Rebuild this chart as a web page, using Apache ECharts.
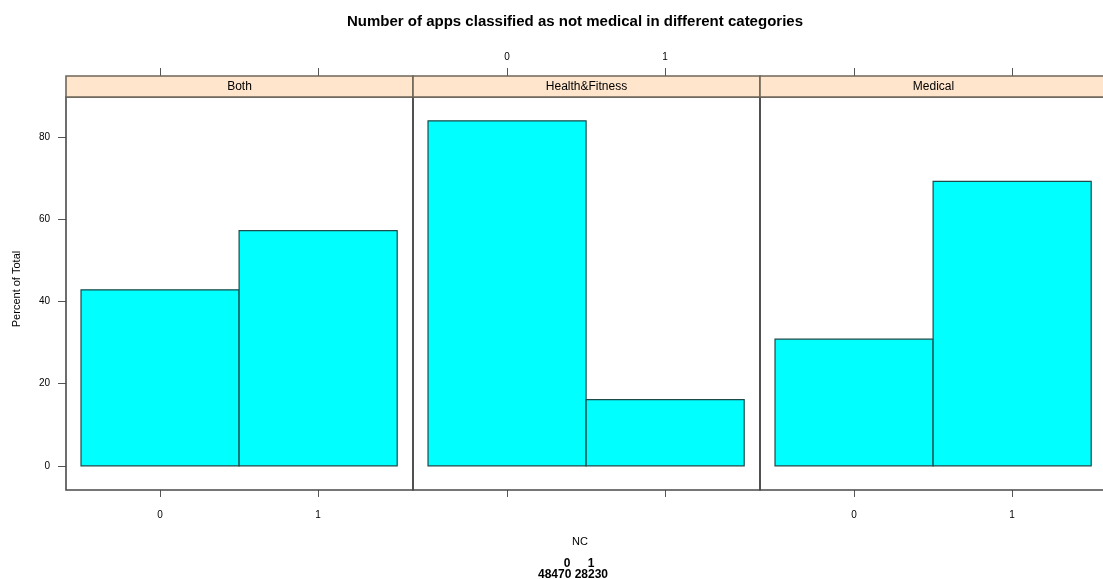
<!DOCTYPE html>
<html><head><meta charset="utf-8">
<script src="https://cdn.jsdelivr.net/npm/echarts@6/dist/echarts.min.js"></script>
<style>html,body{margin:0;padding:0;background:#fff}#c{width:1103px;height:579px}</style>
</head><body><div id="c"></div>
<script>
const panels = ['Both', 'Health&Fitness', 'Medical'];
const ncValues = [0, 1];
const percentBoth = [42.8, 57.2];
const percentHealth = [83.9, 16.1];
const percentMedical = [30.8, 69.2];
const yTicks = [0, 20, 40, 60, 80];
const ncLevels = ['0', '1'];
const ncCounts = [48470, 28230];
const titleText = 'Number of apps classified as not medical in different categories';

const percents = [percentBoth, percentHealth, percentMedical];
const font = 'Liberation Sans, Arial, sans-serif';
const panelLeft = [66, 413, 760];
const panelW = 347, panelTop = 97, panelH = 393, stripH = 21;
const xMin = -0.595, xMax = 1.6, yMin = -5.87, yMax = 89.7;
const unitPx = panelW / (xMax - xMin);
// the last panel runs past the window's right edge; keep the same scale but cut it at the edge
const gridW = [panelW, panelW, 343];
const border = '#4a4a4a';

const grids = [], xAxes = [], yAxes = [], series = [], graphics = [];
panels.forEach((p, i) => {
  const xm = xMin + gridW[i] / unitPx;
  grids.push({left: panelLeft[i], top: panelTop, width: gridW[i], height: panelH, show: false});
  xAxes.push({type: 'value', gridIndex: i, min: xMin, max: xm, position: 'bottom',
    splitLine: {show: false}, axisLine: {show: false, onZero: false},
    axisTick: {show: true, inside: false, length: 7, customValues: ncValues, lineStyle: {color: '#555'}},
    axisLabel: {show: i !== 1, customValues: ncValues, margin: 20, fontSize: 10, color: '#000', fontFamily: font}});
  xAxes.push({type: 'value', gridIndex: i, min: xMin, max: xm, position: 'top', offset: stripH,
    splitLine: {show: false}, axisLine: {show: false, onZero: false},
    axisTick: {show: true, inside: false, length: 8, customValues: ncValues, lineStyle: {color: '#555'}},
    axisLabel: {show: i === 1, customValues: ncValues, margin: 14, fontSize: 10, color: '#000', fontFamily: font}});
  yAxes.push({type: 'value', gridIndex: i, min: yMin, max: yMax, splitLine: {show: false},
    position: 'left', axisLine: {show: false, onZero: false},
    axisTick: {show: i === 0, length: 8, customValues: yTicks, lineStyle: {color: '#555'}},
    axisLabel: {show: i === 0, customValues: yTicks, fontSize: 10, color: '#000', fontFamily: font, margin: 16}});
  series.push({type: 'custom', xAxisIndex: i * 2, yAxisIndex: i, clip: false,
    data: ncValues.map((v, k) => [v, percents[i][k]]),
    renderItem: (params, api) => {
      const x = api.value(0), y = api.value(1);
      const a = api.coord([x - 0.5, y]);
      const b = api.coord([x + 0.5, 0]);
      return {type: 'rect', shape: {x: a[0], y: a[1], width: b[0] - a[0], height: b[1] - a[1]},
        style: {fill: '#00ffff', stroke: '#1d4a4a', lineWidth: 1.2}};
    }});
  graphics.push({type: 'rect',
    shape: {x: panelLeft[i], y: panelTop, width: panelW, height: panelH},
    style: {fill: 'none', stroke: border, lineWidth: 1.6}, z: 10, silent: true});
  graphics.push({type: 'rect',
    shape: {x: panelLeft[i], y: panelTop - stripH, width: panelW, height: stripH},
    style: {fill: '#ffe5cc', stroke: '#6e6658', lineWidth: 1.6}, z: 10});
  graphics.push({type: 'text', x: panelLeft[i] + panelW / 2, y: panelTop - stripH / 2,
    style: {text: p, fontSize: 12, fontFamily: font, fill: '#000', align: 'center', verticalAlign: 'middle'}, z: 11});
});
graphics.push({type: 'text', x: 17, y: 289, rotation: Math.PI / 2,
  style: {text: 'Percent of Total', fontSize: 11, fontFamily: font, fill: '#000', align: 'center', verticalAlign: 'middle'}});
graphics.push({type: 'text', x: 580, y: 542,
  style: {text: 'NC', fontSize: 11, fontFamily: font, fill: '#000', align: 'center', verticalAlign: 'middle'}});
graphics.push({type: 'text', x: 567, y: 564,
  style: {text: ncLevels[0], fontSize: 12, fontWeight: 'bold', fontFamily: font, fill: '#000', align: 'center', verticalAlign: 'middle'}});
graphics.push({type: 'text', x: 591, y: 564,
  style: {text: ncLevels[1], fontSize: 12, fontWeight: 'bold', fontFamily: font, fill: '#000', align: 'center', verticalAlign: 'middle'}});
graphics.push({type: 'text', x: 573, y: 575,
  style: {text: ncCounts.join(' '), fontSize: 12, fontWeight: 'bold', fontFamily: font, fill: '#000', align: 'center', verticalAlign: 'middle'}});

const chart = echarts.init(document.getElementById('c'), null, {renderer: 'canvas'});
chart.setOption({
  animation: false,
  backgroundColor: '#fff',
  title: {text: titleText, left: 570, top: 9, textAlign: 'center',
    textStyle: {fontSize: 15, fontWeight: 'bold', fontFamily: font, color: '#000'}},
  grid: grids, xAxis: xAxes, yAxis: yAxes, series: series, graphic: graphics
});
</script></body></html>
